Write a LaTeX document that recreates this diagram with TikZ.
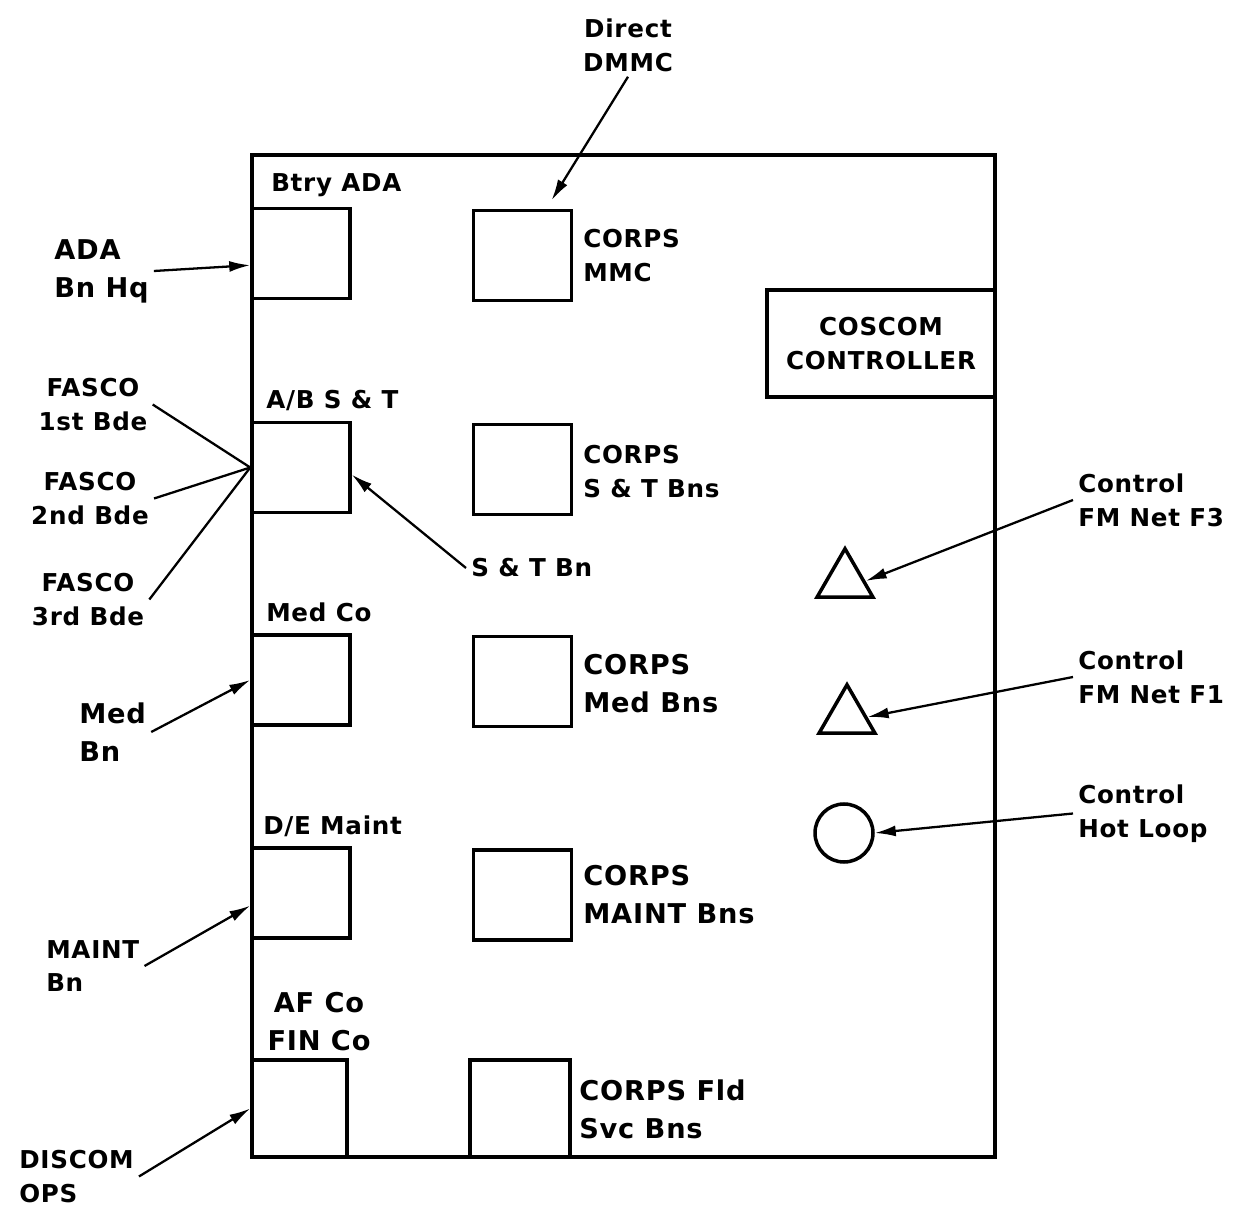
\documentclass[tikz,border=0pt]{standalone}
\usepackage{fontspec}
\setmainfont{DejaVu Sans}[LetterSpace=3]
\usetikzlibrary{arrows.meta,shapes.geometric}

\begin{document}
\begin{tikzpicture}[x=0.02cm,y=-0.02cm,line width=2pt,
  box/.style={draw,minimum width=1.96cm,minimum height=1.8cm,inner sep=0},
  txt/.style={font=\bfseries\fontsize{14}{19.3}\selectfont,align=left,inner sep=2pt},
  bigtxt/.style={font=\bfseries\fontsize{15.5}{21.6}\selectfont,align=left,inner sep=2pt},
  arr/.style={line width=1.3pt,-{Latex[length=0.42cm,width=0.22cm]}},
  feed/.style={line width=1.3pt}]
  \useasboundingbox (0,0) rectangle (1235,1216);
  \draw (252,155) rectangle (995,1157);
  % units inside the net
  \node[box] (btry) at (301,253.5) {};
  \node[box] (absb) at (301,467.5) {};
  \node[box] (medco) at (301,680) {};
  \node[box] (demaint) at (301,893) {};
  \node[box,minimum width=1.9cm,minimum height=1.94cm] (afco) at (299.5,1108.5) {};
  \node[box] (mmc) at (522.5,255.5) {};
  \node[box] (stbns) at (522.5,469.5) {};
  \node[box] (medbns) at (522.5,681.5) {};
  \node[box] (maintbns) at (522.5,895) {};
  \node[box,minimum width=2cm,minimum height=1.94cm] (fldsvc) at (520,1108.5) {};
  \node[txt,draw,align=center,minimum width=4.56cm,minimum height=2.14cm] (ctrl) at (881,343.5) {COSCOM\\CONTROLLER};
  \node[draw,regular polygon,regular polygon sides=3,minimum size=1.29cm,inner sep=0] (fmf3) at (845,581) {};
  \node[draw,regular polygon,regular polygon sides=3,minimum size=1.29cm,inner sep=0] (fmf1) at (847,717) {};
  \node[draw,circle,minimum size=1.16cm,inner sep=0] (hot) at (844,833) {};
  % box labels
  \node[txt,anchor=west] (btrylbl) at (266,185) {Btry ADA};
  \node[txt,anchor=west] (absblbl) at (261,401) {A/B S \& T};
  \node[txt,anchor=west] (medcolbl) at (261,612) {Med Co};
  \node[txt,anchor=west] (delbl) at (258,826) {D/E Maint};
  \node[bigtxt,align=center] (aflbl) at (319,1022) {AF Co\\FIN Co};
  \node[txt,anchor=west] (mmclbl) at (578,256) {CORPS\\MMC};
  \node[txt,anchor=west] (stlbl) at (578,471.5) {CORPS\\S \& T Bns};
  \node[bigtxt,anchor=west] (medlbl) at (578,684) {CORPS\\Med Bns};
  \node[bigtxt,anchor=west] (maintlbl) at (578,895) {CORPS\\MAINT Bns};
  \node[bigtxt,anchor=west] (fldlbl) at (574,1109) {CORPS Fld\\Svc Bns};
  % outside stations
  \node[txt,align=center] (dmmc) at (628,45) {Direct\\DMMC};
  \node[bigtxt,anchor=west] (adahq) at (49,271) {ADA\\Bn Hq};
  \node[txt,align=center] (fasco1) at (93,404.5) {FASCO\\1st Bde};
  \node[txt,align=center] (fasco2) at (90,498.5) {FASCO\\2nd Bde};
  \node[txt,align=center] (fasco3) at (88,599.5) {FASCO\\3rd Bde};
  \node[txt,anchor=west] (stbn) at (466,568) {S \& T Bn};
  \node[bigtxt,anchor=west] (medbn) at (74,732) {Med\\Bn};
  \node[txt,anchor=west] (maintbn) at (41,966) {MAINT\\Bn};
  \node[txt,anchor=west] (discom) at (14,1176.5) {DISCOM\\OPS};
  \node[txt,anchor=west] (netf3) at (1073,500) {Control\\FM Net F3};
  \node[txt,anchor=west] (netf1) at (1073,677) {Control\\FM Net F1};
  \node[txt,anchor=west] (loop) at (1073,813.5) {Control\\Hot Loop};
  % connections
  \draw[arr,shorten >=0.2cm] (dmmc.south) -- (mmc.63);
  \draw[arr] (adahq.east) -- (btry.193);
  \draw[feed] (fasco1.east) -- (absb.west);
  \draw[feed] (fasco2.east) -- (absb.west);
  \draw[feed] (fasco3.east) -- (absb.west);
  \draw[arr] (stbn.west) -- (absb.352);
  \draw[arr] (medbn.east) -- (medco.west);
  \draw[arr] (maintbn.east) -- (demaint.194);
  \draw[arr] (discom.east) -- (afco.west);
  \draw[arr] (netf3.west) -- (fmf3.east);
  \draw[arr] (netf1.west) -- (fmf1.east);
  \draw[arr] (loop.west) -- (hot.east);
\end{tikzpicture}
\end{document}
